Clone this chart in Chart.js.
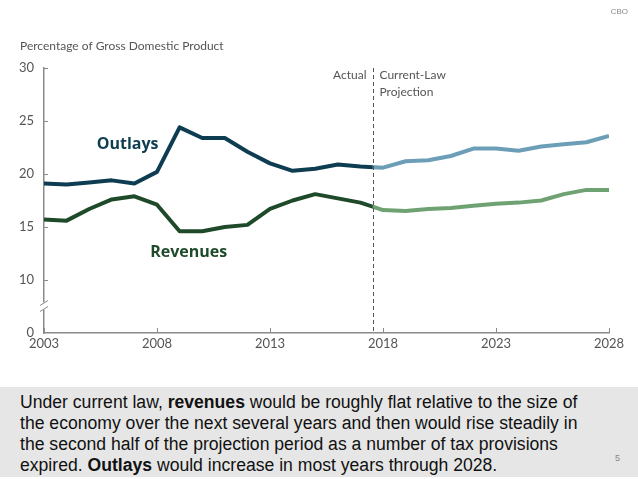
<!DOCTYPE html>
<html>
<head>
<meta charset="utf-8">
<script src="https://cdn.jsdelivr.net/npm/chart.js@4/dist/chart.umd.min.js"></script>
<style>
  html, body { margin: 0; padding: 0; background: #fff; }
  body { width: 638px; height: 479px; position: relative; overflow: hidden; }
  #wrap { position: absolute; left: 0; top: 0; width: 638px; height: 385px; }
  #note {
    position: absolute; left: 0; top: 387px; width: 638px; height: 90px;
    background: #e6e6e6; box-sizing: border-box; padding: 5px 0 0 20px;
    font-family: "Liberation Sans", Arial, sans-serif; font-size: 17.6px;
    line-height: 21px; color: #111;
  }
  #page { position: absolute; right: 18px; bottom: 8px; font-size: 9px; color: #888; }
</style>
</head>
<body>
<div id="wrap"><canvas id="c"></canvas></div>
<div id="note">Under current law, <b>revenues</b> would be roughly flat relative to the size of<br>the economy over the next several years and then would rise steadily in<br>the second half of the projection period as a number of tax provisions<br>expired. <b>Outlays</b> would increase in most years through 2028.<span id="page">5</span></div>
<script>
// fiscal years and shares of GDP (percent)
const years = [2003, 2004, 2005, 2006, 2007, 2008, 2009, 2010, 2011, 2012, 2013, 2014, 2015,
               2016, 2017, 2018, 2019, 2020, 2021, 2022, 2023, 2024, 2025, 2026, 2027, 2028];
const outlays = [19.1, 19.0, 19.2, 19.4, 19.1, 20.2, 24.4, 23.4, 23.4, 22.1, 21.0, 20.3, 20.5,
                 20.9, 20.7, 20.6, 21.2, 21.3, 21.7, 22.4, 22.4, 22.2, 22.6, 22.8, 23.0, 23.6];
const revenues = [15.7, 15.6, 16.7, 17.6, 17.9, 17.1, 14.6, 14.6, 15.0, 15.2, 16.7, 17.5, 18.1,
                  17.7, 17.3, 16.6, 16.5, 16.7, 16.8, 17.0, 17.2, 17.3, 17.5, 18.1, 18.5, 18.5];
const yTicks = [5, 10, 15, 20, 25, 30];   // 5 is drawn as "0" (broken axis)
const lastActual = 2017;
const splitYear = 2017.55;                // actual / projection boundary

const pts = (vals, keep) => years.map((y, i) => ({ x: y, y: vals[i] })).filter(p => keep(p.x));
const isActual = y => y <= lastActual + 1;
const isProj = y => y >= lastActual;

const C = {
  outA: '#0e3d52', outP: '#6c9fb7',
  revA: '#1f4a2a', revP: '#6fa272',
  axis: '#8a8a8a', text: '#555'
};

// clip each part of a series to its side of the split line
const splitClip = {
  id: 'splitClip',
  beforeDatasetDraw(chart, args) {
    const ds = chart.data.datasets[args.index];
    const a = chart.chartArea;
    const sx = chart.scales.x.getPixelForValue(splitYear);
    const ctx = chart.ctx;
    ctx.save();
    ctx.beginPath();
    if (ds.part === 'actual') ctx.rect(0, 0, sx, chart.height);
    else ctx.rect(sx, 0, chart.width - sx, chart.height);
    ctx.clip();
  },
  afterDatasetDraw(chart) {
    chart.ctx.restore();
  }
};

const annotations = {
  id: 'annotations',
  afterDraw(chart) {
    const ctx = chart.ctx;
    const x = chart.scales.x, y = chart.scales.y;
    const a = chart.chartArea;
    ctx.save();

    // inward tick marks
    ctx.strokeStyle = C.axis;
    ctx.lineWidth = 1;
    ctx.beginPath();
    yTicks.slice(1).forEach(v => {
      const py = Math.round(y.getPixelForValue(v)) + 0.5;
      ctx.moveTo(a.left, py); ctx.lineTo(a.left + 4, py);
    });
    x.ticks.forEach(t => {
      const px = Math.round(x.getPixelForValue(t.value)) + 0.5;
      ctx.moveTo(px, a.bottom); ctx.lineTo(px, a.bottom - 5);
    });
    ctx.stroke();

    // axis break marks
    const by = y.getPixelForValue(7.5);
    ctx.fillStyle = '#fff';
    ctx.fillRect(a.left - 3, by - 4, 7, 7);
    ctx.strokeStyle = C.axis;
    ctx.beginPath();
    ctx.moveTo(a.left - 4, by - 1); ctx.lineTo(a.left + 4, by - 6);
    ctx.moveTo(a.left - 4, by + 5); ctx.lineTo(a.left + 4, by);
    ctx.stroke();

    // actual / projection divider
    const sx = Math.round(x.getPixelForValue(splitYear)) + 0.5;
    ctx.setLineDash([4, 3]);
    ctx.strokeStyle = '#555';
    ctx.beginPath();
    ctx.moveTo(sx, a.top); ctx.lineTo(sx, a.bottom);
    ctx.stroke();
    ctx.setLineDash([]);

    ctx.fillStyle = C.text;
    ctx.font = '12px Lato, "Open Sans", sans-serif';
    ctx.textBaseline = 'middle';
    ctx.textAlign = 'right';
    ctx.fillText('Actual', sx - 7, 75);
    ctx.textAlign = 'left';
    ctx.fillText('Current-Law', sx + 6, 75);
    ctx.fillText('Projection', sx + 6, 92);
    ctx.fillText('Percentage of Gross Domestic Product', 20, 46);

    // series labels
    ctx.font = 'bold 16px "Open Sans", Lato, sans-serif';
    ctx.textAlign = 'center';
    ctx.fillStyle = C.outA;
    ctx.fillText('Outlays', x.getPixelForValue(2006.7), y.getPixelForValue(22.8));
    ctx.fillStyle = C.revA;
    ctx.fillText('Revenues', x.getPixelForValue(2009.4), y.getPixelForValue(12.6));

    ctx.font = '8px "Liberation Sans", Arial, sans-serif';
    ctx.fillStyle = '#888';
    ctx.textAlign = 'right';
    ctx.fillText('CBO', 628, 12);
    ctx.restore();
  }
};

const lineStyle = color => ({
  borderColor: color, backgroundColor: color, borderWidth: 4,
  pointRadius: 0, tension: 0, fill: false, borderJoinStyle: 'round', borderCapStyle: 'butt'
});

new Chart(document.getElementById('c').getContext('2d'), {
  type: 'line',
  data: {
    datasets: [
      { label: 'Outlays', part: 'actual', data: pts(outlays, isActual), ...lineStyle(C.outA) },
      { label: 'Outlays (projection)', part: 'proj', data: pts(outlays, isProj), ...lineStyle(C.outP) },
      { label: 'Revenues', part: 'actual', data: pts(revenues, isActual), ...lineStyle(C.revA) },
      { label: 'Revenues (projection)', part: 'proj', data: pts(revenues, isProj), ...lineStyle(C.revP) }
    ]
  },
  options: {
    responsive: true,
    maintainAspectRatio: false,
    animation: false,
    layout: { padding: { left: 0, top: 68, right: 29, bottom: 30 } },
    plugins: { legend: { display: false }, tooltip: { enabled: false } },
    scales: {
      x: {
        type: 'linear', min: 2003, max: 2028,
        grid: { display: false, drawTicks: false },
        border: { color: C.axis, width: 1.5 },
        ticks: {
          stepSize: 5, padding: 3, color: C.text, maxRotation: 0,
          font: { family: 'Lato, "Open Sans", sans-serif', size: 13 },
          callback: v => String(v)
        },
        afterFit: s => { s.height = 22; }
      },
      y: {
        min: 5, max: 30,
        grid: { display: false, drawTicks: false },
        border: { color: C.axis, width: 1.5 },
        afterBuildTicks: s => { s.ticks = yTicks.map(v => ({ value: v })); },
        ticks: {
          padding: 10, color: C.text,
          font: { family: 'Lato, "Open Sans", sans-serif', size: 13 },
          callback: v => (v === yTicks[0] ? '0' : String(v))
        },
        afterFit: s => { s.width = 44; }
      }
    }
  },
  plugins: [splitClip, annotations]
});
</script>
</body>
</html>
